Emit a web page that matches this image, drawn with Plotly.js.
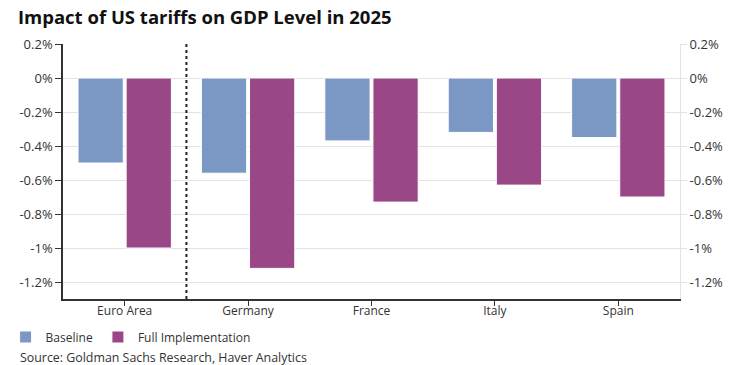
<!DOCTYPE html>
<html>
<head>
<meta charset="utf-8">
<script src="https://cdn.plot.ly/plotly-3.0.1.min.js"></script>
<style>html,body{margin:0;padding:0;background:#fff;}#chart{width:748px;height:365px;}</style>
</head>
<body>
<div id="chart"></div>
<script>
const categories = ["Euro Area", "Germany", "France", "Italy", "Spain"];
const baseline = [-0.50, -0.56, -0.37, -0.32, -0.35];
const fullImplementation = [-1.00, -1.12, -0.73, -0.63, -0.70];
const tickValues = [0.2, 0, -0.2, -0.4, -0.6, -0.8, -1.0, -1.2];
const tickLabels = ["0.2%", "0%", "-0.2%", "-0.4%", "-0.6%", "-0.8%", "-1%", "-1.2%"];

const FONT = "Open Sans, Noto Sans, sans-serif";
const TXT = "#333333";

const traces = [
  {type: "bar", name: "Baseline", x: categories, y: baseline,
   marker: {color: "#7B97C3", line: {color: "#ffffff", width: 1}}, hoverinfo: "x+y"},
  {type: "bar", name: "Full Implementation", x: categories, y: fullImplementation,
   marker: {color: "#9A4787", line: {color: "#ffffff", width: 1}}, hoverinfo: "x+y"},
  {type: "scatter", mode: "markers", x: categories, y: fullImplementation, yaxis: "y2",
   marker: {opacity: 0}, showlegend: false, hoverinfo: "skip"}
];

const layout = {
  width: 748, height: 365,
  margin: {l: 63, r: 68, t: 44, b: 66, autoexpand: false},
  paper_bgcolor: "#ffffff", plot_bgcolor: "#ffffff",
  font: {family: FONT, size: 12, color: TXT},
  title: {text: "<b>Impact of US tariffs on GDP Level in 2025</b>", xref: "container", x: 0.024, xanchor: "left",
          yref: "container", y: 0.953, yanchor: "middle", font: {family: FONT, size: 18.5, color: "#111111"}},
  barmode: "group", bargap: 0.22, bargroupgap: 0.06,
  xaxis: {range: [-0.5, 4.5], showline: true, linecolor: "#333333", linewidth: 1.5,
          ticks: "outside", ticklen: 5, tickcolor: "#333333", showgrid: false, zeroline: false,
          ticklabelstandoff: -5, automargin: false,
          tickfont: {family: FONT, size: 12, color: TXT}, fixedrange: true},
  yaxis: {range: [-1.3, 0.2], tickvals: tickValues, ticktext: tickLabels, showline: true,
          linecolor: "#333333", linewidth: 1.5, ticks: "outside", ticklen: 6, tickcolor: "#333333",
          showgrid: true, gridcolor: "#e3e3e3", gridwidth: 1, zeroline: false, automargin: false,
          tickfont: {family: FONT, size: 13, color: TXT}, fixedrange: true},
  yaxis2: {range: [-1.3, 0.2], overlaying: "y", side: "right", tickvals: tickValues, ticktext: tickLabels,
           showline: true, linecolor: "#e3e3e3", linewidth: 1, ticks: "outside", ticklen: 6, tickcolor: "#e3e3e3",
           ticklabelstandoff: 0, automargin: false,
           showgrid: false, zeroline: false, tickfont: {family: FONT, size: 13, color: TXT}, fixedrange: true},
  shapes: [{type: "line", xref: "x", yref: "paper", x0: 0.5, x1: 0.5, y0: 0, y1: 1,
            line: {color: "#222222", width: 2, dash: "dot"}}],
  legend: {orientation: "h", xref: "paper", yref: "paper", x: -0.093, xanchor: "left", y: -0.149, yanchor: "middle",
           font: {family: FONT, size: 12, color: TXT}, bgcolor: "rgba(0,0,0,0)", itemclick: false, itemdoubleclick: false},
  annotations: [{text: "Source: Goldman Sachs Research, Haver Analytics", xref: "paper", yref: "paper",
                 x: -0.073, xanchor: "left", y: -0.2275, yanchor: "middle", showarrow: false,
                 font: {family: FONT, size: 12.4, color: TXT}}],
  showlegend: true
};

Plotly.newPlot("chart", traces, layout, {displayModeBar: false, staticPlot: false});
</script>
</body>
</html>
